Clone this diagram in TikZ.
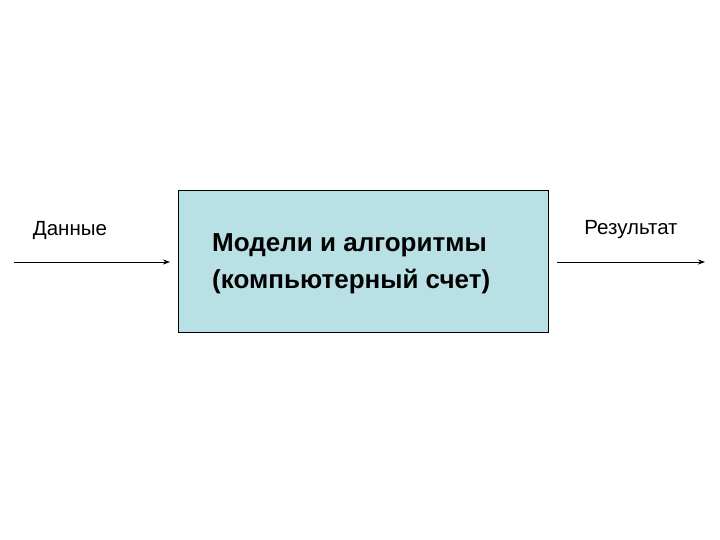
\documentclass[tikz,border=0pt]{standalone}
\usepackage{fontspec}
\setmainfont{Liberation Sans}
\usetikzlibrary{arrows.meta}
\definecolor{boxfill}{RGB}{185,224,228}
\begin{document}
\begin{tikzpicture}[x=1pt,y=-1pt,
  lbl/.style={font=\fontsize{20.5}{24}\selectfont, inner sep=0pt},
  arr/.style={-{Stealth[length=7pt,width=5pt]}, line width=0.8pt}]
\useasboundingbox (0,0) rectangle (720,540);
\node[draw, fill=boxfill, line width=0.8pt, minimum width=370pt, minimum height=142pt, anchor=north west, inner sep=0pt] (box) at (178,190) {};
\node[anchor=west, align=left, inner sep=0pt, font=\bfseries\fontsize{26}{37}\selectfont] (t) at (212,264) {Модели и алгоритмы\\(компьютерный счет)};
\coordinate (a0) at (14,262);
\coordinate (a1) at (170,262);
\coordinate (b0) at (557,262);
\coordinate (b1) at (705,262);
\draw[arr] (a0) -- (a1);
\draw[arr] (b0) -- (b1);
\node[lbl, anchor=center] (d) at (70,230) {Данные};
\node[lbl, anchor=center] (r) at (631,230) {Результат};
\end{tikzpicture}
\end{document}
